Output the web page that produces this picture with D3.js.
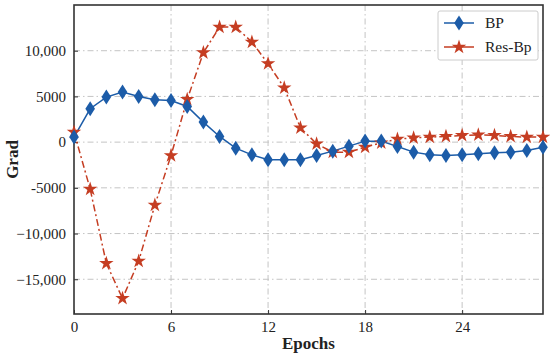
<!DOCTYPE html>
<meta charset="utf-8">
<script src="https://cdn.jsdelivr.net/npm/d3@7"></script>
<style>
body { margin: 0; background: #fff; }
text { font-family: "Liberation Serif", "DejaVu Serif", serif; fill: #222; }
.grid line { stroke: #c4c4c4; stroke-width: 1; stroke-dasharray: 6,3,1.5,3; }
.axis path, .axis line { stroke: #333; }
</style>
<body>
<script>

var epochs = d3.range(0, 30);
var bp = [550, 3650, 4930, 5475, 5000, 4635, 4560, 3900, 2190, 620,
          -660, -1390, -1930, -1930, -1930, -1460, -985, -440, 110, 110,
          -475, -1095, -1390, -1460, -1390, -1280, -1170, -1095, -910, -550];
var resbp = [1100, -5140, -13270, -17100, -13020, -6890, -1460, 4670, 9780, 12590,
             12590, 10950, 8580, 5950, 1570, -180, -1095, -1095, -550, -70,
             330, 475, 550, 620, 730, 800, 730, 620, 550, 550];
var xTicks = [0, 6, 12, 18, 24];
var yTicks = [-15000, -10000, -5000, 0, 5000, 10000];

var width = 550, height = 361;
var margin = {top: 5, right: 7, bottom: 47, left: 74};

var svg = d3.select("body").append("svg")
    .attr("width", width)
    .attr("height", height);

var x = d3.scaleLinear().domain([0, 29]).range([margin.left, width - margin.right]);
var y = d3.scaleLinear().domain([-18800, 15000]).range([height - margin.bottom, margin.top]);

var fmt = function(d) { return Math.abs(d) >= 10000 ? d3.format(",")(d) : String(d); };

// grid
var grid = svg.append("g").attr("class", "grid");
grid.selectAll(".gx").data(xTicks.slice(1)).enter().append("line")
    .attr("x1", d => x(d)).attr("x2", d => x(d))
    .attr("y1", y.range()[1]).attr("y2", y.range()[0]);
grid.selectAll(".gy").data(yTicks).enter().append("line")
    .attr("y1", d => y(d)).attr("y2", d => y(d))
    .attr("x1", x.range()[0]).attr("x2", x.range()[1]);

// axes
var xAxis = svg.append("g").attr("class", "axis")
    .attr("transform", "translate(0," + y.range()[0] + ")")
    .call(d3.axisBottom(x).tickValues(xTicks).tickSizeInner(-4).tickSizeOuter(0).tickPadding(7));
var yAxis = svg.append("g").attr("class", "axis")
    .attr("transform", "translate(" + x.range()[0] + ",0)")
    .call(d3.axisLeft(y).tickValues(yTicks).tickFormat(fmt).tickSizeInner(-4).tickSizeOuter(0).tickPadding(8));
svg.selectAll(".axis text").style("font-size", "15px").style("font-family", "Liberation Serif, serif").attr("fill", "#222");
svg.selectAll(".axis path").remove();

// frame
svg.append("rect")
    .attr("x", x.range()[0]).attr("y", y.range()[1])
    .attr("width", x.range()[1] - x.range()[0])
    .attr("height", y.range()[0] - y.range()[1])
    .attr("fill", "none").attr("stroke", "#333").attr("stroke-width", 1.6);

var blue = "#1c5ca8", red = "#c53d22";

var line = d3.line().x((d, i) => x(epochs[i])).y(d => y(d));

svg.append("path").datum(resbp)
    .attr("d", line).attr("fill", "none")
    .attr("stroke", red).attr("stroke-width", 1.5)
    .attr("stroke-dasharray", "7,3,2,3");

svg.append("path").datum(bp)
    .attr("d", line).attr("fill", "none")
    .attr("stroke", blue).attr("stroke-width", 1.5);

var diamond = "M0,-7.5L4.8,0L0,7.5L-4.8,0Z";
var star = d3.symbol().type(d3.symbolStar).size(65)();

svg.append("g").selectAll("path").data(resbp).enter().append("path")
    .attr("d", star).attr("fill", red)
    .attr("transform", (d, i) => "translate(" + x(epochs[i]) + "," + y(d) + ")");

svg.append("g").selectAll("path").data(bp).enter().append("path")
    .attr("d", diamond).attr("fill", blue)
    .attr("transform", (d, i) => "translate(" + x(epochs[i]) + "," + y(d) + ")");

// legend
var lg = svg.append("g").attr("transform", "translate(438,11)");
lg.append("rect").attr("width", 100).attr("height", 49).attr("rx", 2)
    .attr("fill", "#fff").attr("stroke", "#ccc");
var items = [{name: "BP", color: blue, shape: diamond}, {name: "Res-Bp", color: red, shape: star}];
items.forEach(function(it, i) {
  var yy = 12 + i * 24;
  lg.append("line").attr("x1", 6).attr("x2", 36).attr("y1", yy).attr("y2", yy)
      .attr("stroke", it.color).attr("stroke-width", 1.5);
  lg.append("path").attr("d", it.shape).attr("fill", it.color)
      .attr("transform", "translate(21," + yy + ")");
  lg.append("text").attr("x", 47).attr("y", yy + 5).style("font-size", "15.5px").text(it.name);
});

// axis titles
svg.append("text")
    .attr("x", (x.range()[0] + x.range()[1]) / 2).attr("y", 349)
    .attr("text-anchor", "middle").style("font-size", "17px").style("font-weight", "bold")
    .text("Epochs");
svg.append("text")
    .attr("transform", "translate(18," + ((y.range()[0] + y.range()[1]) / 2) + ") rotate(-90)")
    .attr("text-anchor", "middle").style("font-size", "17px").style("font-weight", "bold")
    .text("Grad");

</script>
</body>
